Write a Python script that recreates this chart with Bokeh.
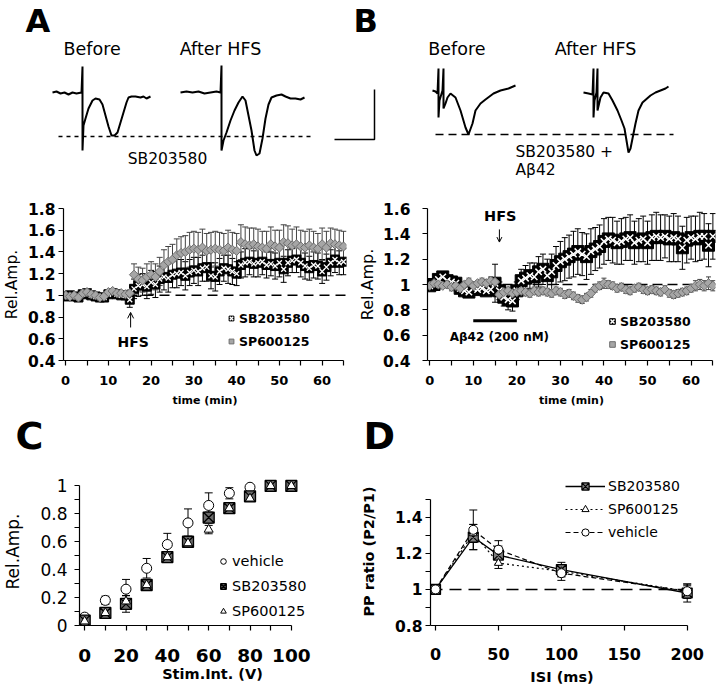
from bokeh.plotting import figure
from bokeh.layouts import column, row
from bokeh.models import (Range1d, FixedTicker, CustomJSTickFormatter, Whisker, TeeHead,
                          ColumnDataSource, Span, Label, Legend, LegendItem, Arrow, OpenHead)
from bokeh.embed import file_html
from bokeh.resources import INLINE

FONT = "DejaVu Sans"

# ---------------- example traces (time in ms, amplitude in mV re. baseline) ----------------
a_before_t = [0, 1, 2, 3, 4, 5, 6, 7.25, 7.5, 7.5, 7.75, 8.25, 9, 10, 10.75, 11.75, 12.5, 13.25, 14,
              14.75, 15.5, 16.25, 17, 17.75, 18.5, 19, 19.75, 20.75, 22, 22.75, 23.5, 24.5]
a_before_v = [0, 0.01, -0.01, 0, -0.02, 0, -0.01, 0, 0.26, -0.58, -0.33, -0.26, -0.16, -0.08, -0.06,
              -0.07, -0.12, -0.23, -0.34, -0.43, -0.43, -0.40, -0.30, -0.20, -0.10, -0.05, -0.04,
              -0.04, -0.05, -0.04, -0.06, -0.04]
a_after_t = [0, 1.5, 3, 4.5, 6, 7.5, 9, 10, 10.25, 10.25, 10.75, 11.5, 12.5, 13.5, 14.5, 15.5, 16.25,
             17, 17.75, 18.5, 19, 19.75, 20.5, 21.25, 22, 22.75, 24, 25.25, 26.25, 27.5, 28.75, 30, 31]
a_after_v = [0, 0.01, 0, 0.01, -0.01, 0, 0.01, 0, 0.27, -0.58, -0.48, -0.40, -0.28, -0.18, -0.10,
             -0.04, -0.08, -0.23, -0.38, -0.58, -0.63, -0.61, -0.46, -0.26, -0.12, -0.05, -0.03,
             -0.02, -0.04, -0.06, -0.06, -0.07, -0.05]
b_before_t = [0, 0.75, 1.25, 1.5, 1.5, 1.75, 2.5, 2.75, 2.75, 3.25, 3.75, 4.5, 5.75, 7, 8.25, 9, 10,
              10.75, 12, 13.25, 15.25, 17, 19, 20.75]
b_before_v = [0, -0.01, -0.03, 0.22, -0.27, -0.10, 0, 0.22, -0.18, -0.13, -0.07, -0.03, -0.07, -0.20,
              -0.37, -0.44, -0.33, -0.20, -0.13, -0.09, -0.03, 0, 0.02, 0.05]
b_after_t = [0, 1.25, 2.25, 2.5, 2.5, 2.75, 3.25, 3.5, 3.5, 4.25, 5, 6.25, 7.25, 8.5, 9.5, 10.25,
             10.75, 11.25, 11.75, 12.25, 13, 13.75, 14.75, 16.75, 18, 19.25, 20.5, 21.25]
b_after_v = [-0.02, -0.03, -0.04, 0.22, -0.27, -0.10, -0.02, 0.22, -0.20, -0.07, -0.02, -0.03, -0.10,
             -0.20, -0.30, -0.38, -0.50, -0.62, -0.58, -0.48, -0.33, -0.20, -0.12, -0.05, -0.02, 0,
             0.02, 0.04]
a_peak_level = -0.44
b_peak_level = -0.44
scale_ms = 10
scale_mv = 0.5

# ---------------- panel A / B: time courses ----------------
time_min = [0, 1, 2, 3, 4, 5, 6, 7, 8, 9, 10, 11, 12, 13, 14, 15, 16, 17, 18, 19, 20, 21, 22, 23, 24,
            25, 26, 27, 28, 29, 30, 31, 32, 33, 34, 35, 36, 37, 38, 39, 40, 41, 42, 43, 44, 45, 46,
            47, 48, 49, 50, 51, 52, 53, 54, 55, 56, 57, 58, 59, 60, 61, 62, 63, 64, 65]
a_sb = [0.99, 1.00, 0.99, 0.98, 1.01, 1.02, 1.00, 0.99, 0.98, 0.98, 1.01, 1.02, 1.01, 1.00, 1.00,
        0.96, 1.06, 1.09, 1.10, 1.08, 1.12, 1.10, 1.15, 1.17, 1.16, 1.19, 1.20, 1.21, 1.18, 1.21,
        1.23, 1.22, 1.25, 1.26, 1.18, 1.17, 1.22, 1.25, 1.24, 1.22, 1.20, 1.28, 1.30, 1.31, 1.29,
        1.30, 1.31, 1.28, 1.29, 1.27, 1.30, 1.24, 1.30, 1.32, 1.33, 1.30, 1.27, 1.25, 1.28, 1.27,
        1.22, 1.26, 1.30, 1.33, 1.30, 1.31]
a_sb_err = [0.02, 0.02, 0.02, 0.02, 0.02, 0.02, 0.02, 0.02, 0.02, 0.02, 0.02, 0.02, 0.02, 0.02, 0.02,
            0.07, 0.09, 0.10, 0.10, 0.11, 0.11, 0.12, 0.12, 0.12, 0.13, 0.12, 0.13, 0.12, 0.13, 0.12,
            0.12, 0.13, 0.12, 0.13, 0.12, 0.13, 0.12, 0.12, 0.13, 0.12, 0.11, 0.12, 0.13, 0.12, 0.12,
            0.13, 0.12, 0.12, 0.11, 0.12, 0.13, 0.12, 0.12, 0.11, 0.12, 0.13, 0.12, 0.11, 0.12, 0.12,
            0.11, 0.12, 0.12, 0.12, 0.11, 0.12]
a_sp = [1.00, 0.99, 1.00, 0.98, 1.02, 1.03, 1.01, 1.00, 0.98, 0.99, 1.03, 1.04, 1.02, 1.02, 1.01,
        1.02, 1.19, 1.15, 1.14, 1.17, 1.19, 1.17, 1.22, 1.28, 1.31, 1.33, 1.37, 1.39, 1.40, 1.42,
        1.43, 1.42, 1.44, 1.41, 1.42, 1.43, 1.42, 1.41, 1.44, 1.42, 1.41, 1.49, 1.47, 1.46, 1.47,
        1.45, 1.44, 1.43, 1.47, 1.45, 1.44, 1.49, 1.48, 1.46, 1.47, 1.45, 1.44, 1.46, 1.44, 1.43,
        1.47, 1.44, 1.48, 1.47, 1.46, 1.45]
a_sp_err = [0.02, 0.02, 0.02, 0.02, 0.02, 0.02, 0.02, 0.02, 0.02, 0.02, 0.02, 0.02, 0.02, 0.02, 0.02,
            0.03, 0.10, 0.11, 0.11, 0.12, 0.12, 0.12, 0.13, 0.14, 0.14, 0.14, 0.15, 0.15, 0.15, 0.16,
            0.16, 0.16, 0.17, 0.16, 0.16, 0.16, 0.16, 0.16, 0.16, 0.16, 0.16, 0.16, 0.16, 0.16, 0.15,
            0.16, 0.15, 0.16, 0.16, 0.15, 0.16, 0.16, 0.16, 0.15, 0.16, 0.15, 0.15, 0.15, 0.15, 0.14,
            0.15, 0.15, 0.14, 0.14, 0.14, 0.14]
b_sb = [0.99, 1.00, 1.04, 1.06, 1.03, 1.02, 1.01, 0.97, 0.95, 0.94, 0.97, 0.96, 0.97, 0.95, 0.96,
        1.01, 0.95, 0.90, 0.88, 0.87, 0.95, 1.03, 1.05, 1.07, 1.06, 1.10, 1.12, 1.07, 1.10, 1.15,
        1.18, 1.20, 1.22, 1.24, 1.26, 1.24, 1.22, 1.26, 1.28, 1.30, 1.34, 1.36, 1.35, 1.33, 1.34,
        1.36, 1.37, 1.33, 1.35, 1.36, 1.33, 1.37, 1.38, 1.37, 1.38, 1.36, 1.37, 1.36, 1.29, 1.35,
        1.37, 1.36, 1.38, 1.38, 1.31, 1.38]
b_sb_err = [0.03, 0.03, 0.03, 0.03, 0.03, 0.03, 0.03, 0.03, 0.03, 0.03, 0.03, 0.03, 0.03, 0.03, 0.03,
            0.15, 0.07, 0.07, 0.08, 0.08, 0.07, 0.09, 0.10, 0.10, 0.11, 0.12, 0.12, 0.13, 0.14, 0.15,
            0.16, 0.17, 0.17, 0.18, 0.18, 0.17, 0.18, 0.18, 0.17, 0.17, 0.18, 0.17, 0.18, 0.17, 0.18,
            0.17, 0.18, 0.17, 0.17, 0.18, 0.17, 0.18, 0.19, 0.18, 0.17, 0.18, 0.19, 0.18, 0.17, 0.18,
            0.17, 0.18, 0.19, 0.18, 0.17, 0.18]
b_sp = [0.99, 1.01, 1.00, 0.99, 1.00, 0.98, 0.99, 0.97, 1.00, 1.02, 0.99, 1.01, 1.02, 1.01, 1.03,
        1.02, 0.92, 0.94, 0.95, 0.93, 0.94, 0.95, 0.94, 0.93, 0.95, 0.94, 0.95, 0.94, 0.93, 0.95,
        0.94, 0.92, 0.93, 0.91, 0.89, 0.88, 0.90, 0.93, 0.97, 0.99, 1.01, 1.00, 0.99, 0.97, 0.98,
        0.96, 0.95, 0.97, 0.98, 0.96, 0.95, 0.96, 0.95, 0.94, 0.96, 0.93, 0.92, 0.93, 0.94, 0.95,
        0.97, 0.99, 1.00, 0.99, 1.01, 0.99]
b_sp_err = [0.02, 0.02, 0.03, 0.02, 0.02, 0.03, 0.02, 0.03, 0.02, 0.03, 0.03, 0.02, 0.03, 0.03, 0.03,
            0.03, 0.04, 0.03, 0.03, 0.03, 0.03, 0.03, 0.03, 0.03, 0.03, 0.03, 0.03, 0.03, 0.03, 0.03,
            0.03, 0.03, 0.03, 0.03, 0.03, 0.03, 0.03, 0.03, 0.03, 0.03, 0.04, 0.03, 0.03, 0.03, 0.03,
            0.03, 0.03, 0.03, 0.03, 0.03, 0.03, 0.03, 0.03, 0.03, 0.03, 0.03, 0.03, 0.03, 0.03, 0.03,
            0.03, 0.04, 0.04, 0.04, 0.05, 0.04]
a_hfs_time = 15.2
b_hfs_time = 16
abeta_window = [10, 20]

time_ticks = [0, 10, 20, 30, 40, 50, 60]
time_minor = [5, 15, 25, 35, 45, 55, 65]
a_yticks = [0.4, 0.6, 0.8, 1.0, 1.2, 1.4, 1.6, 1.8]
b_yticks = [0.4, 0.6, 0.8, 1.0, 1.2, 1.4, 1.6]

# ---------------- panel C: input-output ----------------
stim = [0, 10, 20, 30, 40, 50, 60, 70, 80, 90, 100]
c_veh = [0.06, 0.18, 0.26, 0.41, 0.58, 0.735, 0.86, 0.947, 0.99, 1.0, 1.0]
c_veh_err = [0.02, 0.03, 0.07, 0.07, 0.08, 0.10, 0.09, 0.04, 0.01, 0, 0]
c_sb = [0.035, 0.09, 0.155, 0.29, 0.49, 0.60, 0.773, 0.84, 0.925, 1.0, 1.0]
c_sb_err = [0.01, 0.015, 0.06, 0.02, 0.02, 0.04, 0.04, 0.015, 0.03, 0, 0]
c_sp = [0.03, 0.09, 0.173, 0.29, 0.49, 0.59, 0.687, 0.84, 0.91, 1.0, 1.0]
c_sp_err = [0.01, 0.01, 0.04, 0.02, 0.02, 0.03, 0.03, 0.01, 0.02, 0, 0]
c_xticks = [0, 20, 40, 60, 80, 100]
c_xminor = [10, 30, 50, 70, 90]
c_yticks = [0, 0.2, 0.4, 0.6, 0.8, 1.0]
c_yminor = [0.1, 0.3, 0.5, 0.7, 0.9]

# ---------------- panel D: paired pulse ----------------
isi = [0, 30, 50, 100, 200]
d_sb = [1.0, 1.29, 1.19, 1.11, 0.98]
d_sb_err = [0, 0.07, 0.05, 0.04, 0.05]
d_sp = [1.0, 1.31, 1.146, 1.10, 0.99]
d_sp_err = [0, 0.05, 0.03, 0.03, 0.03]
d_veh = [1.0, 1.33, 1.22, 1.09, 0.99]
d_veh_err = [0, 0.11, 0.05, 0.04, 0.04]
d_xticks = [0, 50, 100, 150, 200]
d_yticks = [0.8, 1.0, 1.2, 1.4]
d_yminor = [0.9, 1.1, 1.3, 1.5]

FMT = "return String(Math.round(tick * 10) / 10);"


def make_fig(w, h, xr, yr, bl, br, bt, bb):
    p = figure(width=w, height=h, x_range=Range1d(*xr), y_range=Range1d(*yr),
               output_backend="svg", toolbar_location=None, tools="",
               min_border_left=bl, min_border_right=br, min_border_top=bt, min_border_bottom=bb)
    p.xgrid.visible = False
    p.ygrid.visible = False
    p.outline_line_color = None
    p.background_fill_color = "white"
    p.border_fill_color = "white"
    return p


def style_axis(ax, ticks, minor, tsize, tstyle, tstandoff, label, lsize, lstyle, lstandoff):
    ax.ticker = FixedTicker(ticks=ticks, minor_ticks=minor)
    ax.formatter = CustomJSTickFormatter(code=FMT)
    ax.axis_line_color = "black"
    ax.axis_line_width = 1.2
    ax.major_tick_line_color = "black"
    ax.major_tick_line_width = 1.2
    ax.major_tick_in = 0
    ax.major_tick_out = 5
    ax.minor_tick_line_color = "black"
    ax.minor_tick_line_width = 1.2
    ax.minor_tick_in = 0
    ax.minor_tick_out = 5
    ax.major_label_text_font = FONT
    ax.major_label_text_font_size = f"{tsize}px"
    ax.major_label_text_font_style = tstyle
    ax.major_label_text_color = "black"
    ax.major_label_standoff = tstandoff
    ax.axis_label = label
    ax.axis_label_text_font = FONT
    ax.axis_label_text_font_size = f"{lsize}px"
    ax.axis_label_text_font_style = lstyle
    ax.axis_label_text_color = "black"
    ax.axis_label_standoff = lstandoff


def add_err(p, x, y, err, color, size):
    xs = [a for a, e in zip(x, err) if e > 0]
    lo = [b - e for b, e in zip(y, err) if e > 0]
    hi = [b + e for b, e in zip(y, err) if e > 0]
    src = ColumnDataSource(dict(x=xs, lo=lo, hi=hi))
    w = Whisker(source=src, base="x", lower="lo", upper="hi", line_color=color, line_width=1,
                upper_head=TeeHead(size=size, line_color=color, line_width=1),
                lower_head=TeeHead(size=size, line_color=color, line_width=1), level="underlay")
    p.add_layout(w)


def make_legend(items, loc, gw, gh, spacing, standoff, fsize, fstyle):
    return Legend(items=items, location=loc, orientation="vertical", glyph_width=gw, glyph_height=gh,
                  label_height=gh, label_width=10, spacing=spacing, padding=0, margin=0,
                  label_standoff=standoff, border_line_color=None, background_fill_alpha=0,
                  label_text_font=FONT, label_text_font_size=f"{fsize}px",
                  label_text_font_style=fstyle, label_text_color="black")


def txt(p, x, y, text, size, style="normal", align="center", baseline="middle"):
    p.add_layout(Label(x=x, y=y, text=text, text_font=FONT, text_font_size=f"{size}px",
                       text_font_style=style, text_align=align, text_baseline=baseline,
                       text_color="black"))


def bare_fig(w, h, xr, yr):
    f = figure(width=w, height=h, x_range=Range1d(*xr), y_range=Range1d(*yr),
               output_backend="svg", toolbar_location=None, tools="",
               x_axis_location=None, y_axis_location=None, min_border=0)
    f.xgrid.visible = False
    f.ygrid.visible = False
    f.outline_line_color = None
    return f


# ================= top row: traces =================
A_AFTER_T0 = 32
B_BEFORE_T0 = 95
B_AFTER_T0 = 132.75
B_V0 = 0.02

tr = bare_fig(720, 180, (-13, 167), (-0.88, 0.92))
tr.line(a_before_t, a_before_v, line_color="black", line_width=2)
tr.line([t + A_AFTER_T0 for t in a_after_t], a_after_v, line_color="black", line_width=2)
tr.line([1.5, 64.5], [a_peak_level, a_peak_level], line_color="black", line_width=1.5, line_dash="4 4")
tr.line([t + B_BEFORE_T0 for t in b_before_t], [v + B_V0 for v in b_before_v], line_color="black", line_width=2)
tr.line([t + B_AFTER_T0 for t in b_after_t], [v + B_V0 for v in b_after_v], line_color="black", line_width=2)
tr.line([95.75, 155.25], [b_peak_level + B_V0, b_peak_level + B_V0], line_color="black",
        line_width=1.5, line_dash="8 5")
sb_x0, sb_y0 = 70.5, -0.47
tr.line([sb_x0, sb_x0 + scale_ms, sb_x0 + scale_ms], [sb_y0, sb_y0, sb_y0 + scale_mv],
        line_color="black", line_width=1.5)

txt(tr, -6.75, 0.72, "A", 32, "bold", align="left")
txt(tr, 75.25, 0.72, "B", 32, "bold", align="left")
txt(tr, 9.9, 0.44, "Before", 17.5)
txt(tr, 42, 0.44, "After HFS", 17.5)
txt(tr, 28.75, -0.66, "SB203580", 15.5)
txt(tr, 101.1, 0.44, "Before", 17.5)
txt(tr, 135.75, 0.44, "After HFS", 17.5)
txt(tr, 115.75, -0.59, "SB203580 +", 15.5, align="left")
txt(tr, 115.75, -0.775, "A\u03b242", 15.5, align="left")

# ================= panel A =================
pa = make_fig(355, 232, (-0.5, 65.7), (0.4, 1.8), 58, 9, 28, 52)
pa.xaxis[0].bounds = (-0.5, 65)
style_axis(pa.xaxis[0], time_ticks, time_minor, 13, "bold", 10, "time (min)", 11, "bold", 6)
style_axis(pa.yaxis[0], a_yticks, [], 15.5, "bold", 3, "Rel.Amp.", 15.5, "normal", 4)
pa.add_layout(Span(location=1.0, dimension="width", line_color="black", line_width=1.5,
                   line_dash="10 6", level="underlay"))
add_err(pa, time_min, a_sb, a_sb_err, "black", 6)
add_err(pa, time_min, a_sp, a_sp_err, "#444444", 6)
ra1 = pa.scatter(time_min, a_sb, marker="square", size=9, fill_color="black", line_color="black")
ra2 = pa.scatter(time_min, a_sb, marker="x", size=7, line_color="white", line_width=1.3)
ra3 = pa.scatter(time_min, a_sp, marker="square", angle=0.785398, size=6.5,
                 fill_color="#a6a6a6", line_color="#6e6e6e", line_width=1)
pa.add_layout(Arrow(x_start=a_hfs_time, y_start=0.704, x_end=a_hfs_time, y_end=0.843,
                    end=OpenHead(size=6, line_width=1, line_color="black"),
                    line_width=1, line_color="black"))
txt(pa, a_hfs_time + 0.6, 0.566, "HFS", 14, "bold")
pa.add_layout(make_legend([LegendItem(label="SB203580", renderers=[ra1, ra2]),
                           LegendItem(label="SP600125", renderers=[ra3])],
                          (162, 11), 12, 16, 7, 2, 12.5, "bold"))

# ================= panel B =================
pb = make_fig(365, 232, (-0.5, 65.6), (0.4, 1.6), 70, 5, 27, 52)
pb.xaxis[0].bounds = (-0.5, 65)
style_axis(pb.xaxis[0], time_ticks, time_minor, 13, "bold", 10, "time (min)", 11, "bold", 6)
style_axis(pb.yaxis[0], b_yticks, [], 15.5, "bold", 12, "Rel.Amp.", 16, "normal", 3)
pb.add_layout(Span(location=1.0, dimension="width", line_color="black", line_width=1.5,
                   line_dash="10 5", level="underlay"))
add_err(pb, time_min, b_sb, b_sb_err, "black", 6)
add_err(pb, time_min, b_sp, b_sp_err, "#444444", 5)
rb1 = pb.scatter(time_min, b_sb, marker="square", size=12, fill_color="black", line_color="black")
rb2 = pb.scatter(time_min, b_sb, marker="x", size=9, line_color="white", line_width=1.5)
rb3 = pb.scatter(time_min, b_sp, marker="square", angle=0.785398, size=6.5,
                 fill_color="#a6a6a6", line_color="#6e6e6e", line_width=1)
pb.add_layout(Arrow(x_start=b_hfs_time, y_start=1.435, x_end=b_hfs_time, y_end=1.335,
                    end=OpenHead(size=5, line_width=1, line_color="black"),
                    line_width=1, line_color="black"))
txt(pb, b_hfs_time + 0.2, 1.537, "HFS", 14.5, "bold")
pb.line(abeta_window, [0.714, 0.714], line_color="black", line_width=3)
txt(pb, 16, 0.589, "A\u03b242 (200 nM)", 12, "bold")
pb.add_layout(make_legend([LegendItem(label="SB203580", renderers=[rb1, rb2]),
                           LegendItem(label="SP600125", renderers=[rb3])],
                          (178, 8), 14, 16, 7, 1, 12.5, "bold"))

# ================= panel letters C / D =================
strip = bare_fig(720, 46, (0, 720), (0, 46))
txt(strip, 15, 23, "C", 38, "bold", align="left")
txt(strip, 363, 23, "D", 38, "bold", align="left")

# ================= panel C =================
pc = make_fig(355, 236, (-2.5, 126.2), (0, 1.06), 75, 10, 10, 67)
pc.xaxis[0].bounds = (-2.5, 100)
pc.yaxis[0].bounds = (0, 1)
style_axis(pc.xaxis[0], c_xticks, c_xminor, 18.5, "bold", 18, "Stim.Int. (V)", 14.5, "bold", 1)
style_axis(pc.yaxis[0], c_yticks, c_yminor, 17, "normal", 7, "Rel.Amp.", 17, "normal", 14)
add_err(pc, stim, c_veh, c_veh_err, "black", 8)
add_err(pc, stim, c_sb, c_sb_err, "black", 8)
add_err(pc, stim, c_sp, c_sp_err, "black", 8)
rc1 = pc.scatter(stim, c_veh, marker="circle", size=10, fill_color="white", line_color="black", line_width=1)
rc2 = pc.scatter(stim, c_sb, marker="square_x", size=11, fill_color="#6a6a6a", line_color="black", line_width=1.3)
rc3 = pc.scatter(stim, c_sp, marker="triangle", size=9, fill_color="white", line_color="black", line_width=1)
pc.add_layout(make_legend([LegendItem(label="vehicle", renderers=[rc1]),
                           LegendItem(label="SB203580", renderers=[rc2]),
                           LegendItem(label="SP600125", renderers=[rc3])],
                          (137, 4), 14, 20, 5, 2, 14.5, "normal"))

# ================= panel D =================
pd_ = make_fig(365, 236, (-4, 205), (0.8, 1.62), 75, 27, 19, 69)
pd_.xaxis[0].bounds = (-4, 200)
pd_.yaxis[0].bounds = (0.8, 1.5)
style_axis(pd_.xaxis[0], d_xticks, [], 16, "bold", 17, "ISI (ms)", 14.5, "bold", 6)
style_axis(pd_.yaxis[0], d_yticks, d_yminor, 15.5, "bold", 3, "PP ratio (P2/P1)", 14.5, "bold", 15)
pd_.add_layout(Span(location=1.0, dimension="width", line_color="black", line_width=1.5,
                    line_dash="12 7", level="underlay"))
add_err(pd_, isi, d_sb, d_sb_err, "black", 8)
add_err(pd_, isi, d_sp, d_sp_err, "black", 8)
add_err(pd_, isi, d_veh, d_veh_err, "black", 8)
ld1 = pd_.line(isi, d_sb, line_color="black", line_width=1.3)
ld2 = pd_.line(isi, d_sp, line_color="black", line_width=1.2, line_dash="2 3")
ld3 = pd_.line(isi, d_veh, line_color="black", line_width=1.2, line_dash="5 3")
rd1 = pd_.scatter(isi, d_sb, marker="square_x", size=10, fill_color="#808080", line_color="black", line_width=1.2)
rd2 = pd_.scatter(isi, d_sp, marker="triangle", size=8, fill_color="white", line_color="black", line_width=1)
rd3 = pd_.scatter(isi, d_veh, marker="circle", size=9, fill_color="white", line_color="black", line_width=1)
pd_.add_layout(make_legend([LegendItem(label="SB203580", renderers=[ld1, rd1]),
                            LegendItem(label="SP600125", renderers=[ld2, rd2]),
                            LegendItem(label="vehicle", renderers=[ld3, rd3])],
                           (135, 84), 40, 18, 5, 3, 14, "normal"))

layout = column(tr, row(pa, pb), strip, row(pc, pd_))
open("out.html", "w").write(file_html(layout, INLINE))
